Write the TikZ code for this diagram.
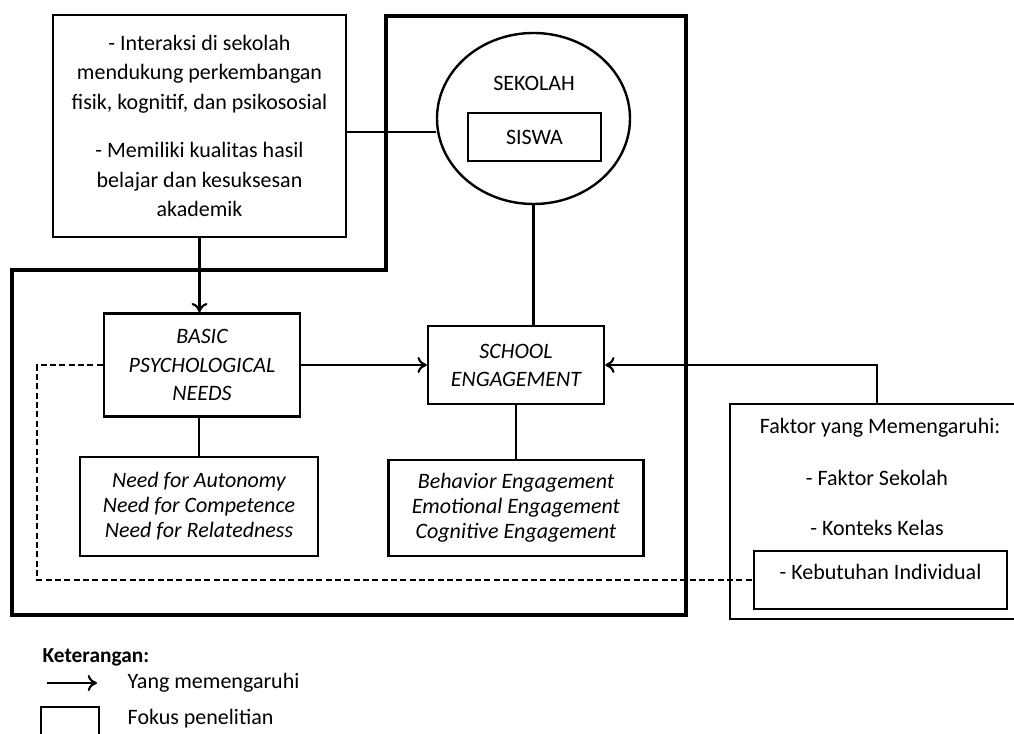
\documentclass[tikz,border=0pt]{standalone}
\usepackage{fontspec}
\setmainfont{Carlito}
\usetikzlibrary{positioning,shapes.geometric,arrows.meta}

\begin{document}
\begin{tikzpicture}[x=0.75pt,y=-0.75pt,
  kotak/.style={draw,line width=1.8pt,rectangle,inner sep=0pt,align=center},
  garis/.style={line width=1.6pt},
  panah/.style={line width=1.6pt,-{To[length=7pt,width=12pt,line width=1.6pt]}},
  fokus/.style={line width=3.3pt,line join=miter},
  teks/.style={font=\fontsize{16.5}{22}\selectfont},
  miring/.style={font=\fontsize{16.5}{18.8}\selectfont\itshape}]

% Page size of the reference (pixels)
\useasboundingbox (0,0) rectangle (1014,734);

% The focus frame (thick line)
\draw[fokus] (386,16) -- (686,16) -- (686,615) -- (12,615)
             -- (12,270) -- (386,270) -- cycle;

% Top-left box
\node[kotak,teks,minimum width=219.75pt,minimum height=166.5pt] (info) at (199.5,126)
  {- Interaksi di sekolah\\ mendukung perkembangan\\ fisik, kognitif, dan psikososial\\[14.5pt]
   - Memiliki kualitas hasil\\ belajar dan kesuksesan\\ akademik};

% The school with the student inside
\node[draw,ellipse,line width=1.8pt,minimum width=144.75pt,minimum height=128.25pt] (sekolah) at (533.5,118.5) {};
\node[teks] (sekolahlbl) at (534,83) {SEKOLAH};
\node[kotak,teks,minimum width=99.75pt,minimum height=36pt] (siswa) at (534.5,137) {SISWA};

% Central boxes
\node[kotak,miring,font=\fontsize{16.5}{21.4}\selectfont\itshape,
      minimum width=147pt,minimum height=77.25pt] (bpn) at (202,365)
  {BASIC\\ PSYCHOLOGICAL\\ NEEDS};
\node[kotak,miring,font=\fontsize{16.5}{21}\selectfont\itshape,
      minimum width=132pt,minimum height=58.5pt] (se) at (516,365)
  {SCHOOL\\ ENGAGEMENT};
\node[kotak,miring,minimum width=178.5pt,minimum height=74.25pt] (needs) at (199,506.5)
  {Need for Autonomy\\ Need for Competence\\ Need for Relatedness};
\node[kotak,miring,minimum width=191.25pt,minimum height=72pt] (eng) at (516,508)
  {Behavior Engagement\\ Emotional Engagement\\ Cognitive Engagement};

% Influencing factors (box runs past the right edge)
\node[kotak,minimum width=220.5pt,minimum height=161.25pt] (faktor) at (877,511.5) {};
\node[teks] (faktorjudul) at (880,428) {Faktor yang Memengaruhi:};
\node[teks] (sekolahf) at (877,478) {- Faktor Sekolah};
\node[teks] (kelas) at (877,528) {- Konteks Kelas};
\node[kotak,teks,minimum width=189.75pt,minimum height=43.5pt,
      text height=10.5pt,text depth=11pt] (keb) at (880.5,580) {- Kebutuhan Individual};

% Connectors
\draw[garis] (info.east |- 0,132) -- (sekolah.west |- 0,132);
\draw[garis] (sekolah.south) -- (se.north -| sekolah.south);
\draw[panah] (info.south) -- (bpn.north -| info.south);
\draw[panah] (bpn.east) -- (se.west);
\draw[panah] (faktor.north) |- (se.east);
\draw[garis] (bpn.south -| needs.north) -- (needs.north);
\draw[garis] (se.south) -- (eng.north);
\coordinate (kiri) at (37,0);
\draw[garis,dash pattern=on 4.5pt off 2.5pt] (bpn.west) -| (kiri |- keb.west) -- (keb.west);

% Legend
\node[anchor=west,font=\fontsize{16}{18}\selectfont\bfseries] (ket) at (38,657) {Keterangan:};
\coordinate (lgA) at (47,683);
\coordinate (lgB) at (97,683);
\draw[panah] (lgA) -- (lgB);
\node[anchor=west,teks] (ketpanah) at (123,683) {Yang memengaruhi};
\draw[line width=1.8pt] (41,745) |- (99,707) -- (99,745);
\node[anchor=west,teks] (ketkotak) at (123,719) {Fokus penelitian};
\end{tikzpicture}
\end{document}
